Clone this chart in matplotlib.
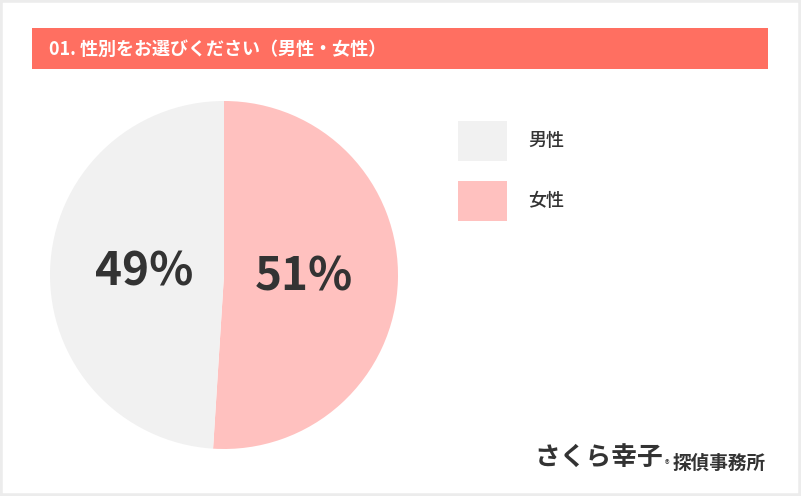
import matplotlib.pyplot as plt
from matplotlib.patches import Rectangle

plt.rcParams['font.family'] = ['Noto Sans CJK JP', 'DejaVu Sans']

title = '01. 性別をお選びください（男性・女性）'
labels = ['女性', '男性']
values = [51, 49]
colors = ['#ffc1bf', '#f1f1f1']
legend_order = ['男性', '女性']

W, H = 801, 496
fig = plt.figure(figsize=(W / 100, H / 100), dpi=100)
fig.patch.set_facecolor('white')

def fx(px):
    return px / W

def fy(py):
    return 1 - py / H

# outer frame
fig.patches.append(Rectangle((0, 0), 1, 1, transform=fig.transFigure,
                             fill=False, edgecolor='#ececec', linewidth=4))

# title bar
fig.patches.append(Rectangle((fx(32), fy(69)), fx(768) - fx(32), fy(28) - fy(69),
                             transform=fig.transFigure, facecolor='#ff6f61',
                             edgecolor='none'))
fig.text(fx(49), fy(49), title, color='white', fontsize=13, fontweight='bold',
         va='center', ha='left')

# pie
ax = fig.add_axes([fx(50), fy(449), fx(398) - fx(50), fy(101) - fy(449)])
wedges, _, autotexts = ax.pie(values, colors=colors, startangle=90, counterclock=False,
                              radius=1, autopct='%d%%', pctdistance=0.46,
                              wedgeprops=dict(linewidth=0))
for t in autotexts:
    t.set_fontsize(33)
    t.set_fontweight('bold')
    t.set_color('#333333')
ax.set_xlim(-1, 1)
ax.set_ylim(-1, 1)
ax.set_aspect('equal')
ax.axis('off')

# legend
col = dict(zip(labels, colors))
for i, name in enumerate(legend_order):
    top = 121 + i * 60
    fig.patches.append(Rectangle((fx(458), fy(top + 40)), fx(507) - fx(458), fy(top) - fy(top + 40),
                                 transform=fig.transFigure, facecolor=col[name],
                                 edgecolor='none'))
    fig.text(fx(528), fy(top + 20), name, fontsize=13, color='#333333',
             va='center', ha='left', fontweight='medium')

# logo
fig.text(fx(534), fy(458), 'さくら幸子', fontsize=18.5, fontweight='bold', color='#333333',
         va='center', ha='left', style='italic')
fig.text(fx(665), fy(465), '®', fontsize=7, color='#333333', va='center', ha='left')
fig.text(fx(673), fy(463), '探偵事務所', fontsize=13.4, fontweight='bold', color='#333333',
         va='center', ha='left', style='italic')

fig.savefig('out.png', dpi=100)
